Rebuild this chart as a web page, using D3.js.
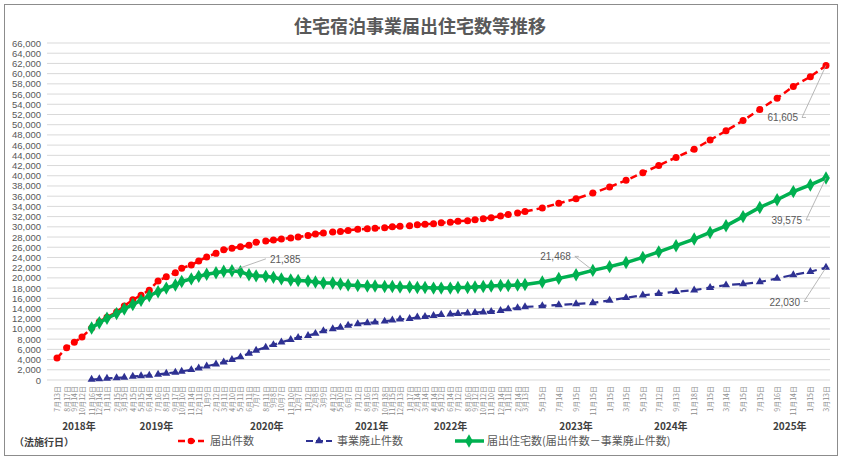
<!DOCTYPE html>
<html>
<head>
<meta charset="utf-8">
<script src="https://cdn.jsdelivr.net/npm/d3@7"></script>
<style>
  body { margin: 0; background: #fff; font-family: "Noto Sans CJK JP", "Noto Sans", sans-serif; }
</style>
</head>
<body>
<div class="visContainer"></div>
<script>
// Data.
const dates = [
  '2018-07-13','2018-08-17','2018-09-14','2018-10-12','2018-11-16','2018-12-14',
  '2019-01-11','2019-02-15','2019-03-15','2019-04-15','2019-05-15','2019-06-14','2019-07-16','2019-08-15','2019-09-17','2019-10-10','2019-11-14','2019-12-11',
  '2020-01-09','2020-02-12','2020-03-11','2020-04-10','2020-05-11','2020-06-11','2020-07-07','2020-08-11','2020-09-08','2020-10-07','2020-11-10','2020-12-07',
  '2021-01-12','2021-02-08','2021-03-09','2021-04-12','2021-05-10','2021-06-07','2021-07-12','2021-08-16','2021-09-13','2021-10-18','2021-11-15','2021-12-13',
  '2022-01-17','2022-02-14','2022-03-14','2022-04-14','2022-05-12','2022-06-14','2022-07-12','2022-08-16','2022-09-12','2022-10-12','2022-11-10','2022-12-14',
  '2023-01-11','2023-02-14','2023-03-13',
  '2023-05-15','2023-07-14','2023-09-15','2023-11-15',
  '2024-01-15','2024-03-15','2024-05-15','2024-07-12','2024-09-13','2024-11-18',
  '2025-01-15','2025-03-14','2025-05-15','2025-07-15','2025-09-16','2025-11-14',
  '2026-01-15','2026-03-13'
];
const filings = [
  4300,6300,7400,8400,10200,11400,
  12300,13300,14500,15700,16600,17600,19400,20200,21000,21900,22500,23300,
  24100,24800,25500,25800,26100,26400,27000,27200,27400,27600,27800,28000,
  28300,28600,28800,29000,29100,29300,29500,29600,29700,29800,30000,30100,
  30200,30400,30500,30600,30800,30900,31100,31200,31400,31600,31800,32100,
  32400,32700,33000,
  33700,34600,35500,36600,
  37800,39100,40600,42000,43600,45200,
  47000,48800,50800,53000,55200,57500,
  59400,61605
];
const closures = [
  null,null,null,null,100,200,
  300,400,500,700,800,900,1100,1300,1500,1700,2000,2300,
  2700,3100,3500,4000,4500,5200,5800,6400,6900,7400,7900,8300,
  8700,9100,9600,10000,10300,10700,11000,11200,11300,11500,11700,11900,
  12000,12300,12400,12600,12800,12900,13000,13100,13200,13300,13400,13600,
  13900,14100,14300,
  14500,14700,14900,15100,
  15600,16100,16600,16900,17300,17600,
  18100,18600,18800,19200,19900,20600,
  21200,22030
];
const housing = [
  null,null,null,null,10200,11200,
  12100,13000,13900,14800,15600,16500,17300,18000,18600,19300,19800,20300,
  20700,21000,21300,21385,21200,20600,20400,20300,20100,19800,19600,19500,
  19400,19200,19000,19000,18800,18600,18500,18400,18400,18300,18300,18200,
  18200,18100,18100,18000,18000,18000,18100,18100,18200,18300,18400,18500,
  18500,18600,18700,
  19200,19900,20600,21468,
  22200,23000,24000,25100,26300,27600,
  28900,30200,32000,33800,35300,36900,
  38200,39575
];
const yearLabels = ['2018年','2019年','2020年','2021年','2022年','2023年','2024年','2025年'];
const yearAt = ['2018-10-01','2019-07-10','2020-08-15','2021-09-01','2022-06-15','2023-09-15','2024-08-25','2025-11-01'];
const yTicks = d3.range(0, 66001, 2000);

const width = 845, height = 465;

const svg = d3.select('.visContainer').append('svg')
  .attr('width', width).attr('height', height);

// Frame.
svg.append('rect').attr('x', 4.5).attr('y', 4.5).attr('width', 833).attr('height', 451)
  .attr('fill', '#fff').attr('stroke', '#8c8c8c');

svg.append('text').attr('x', 420).attr('y', 33).attr('text-anchor', 'middle')
  .attr('font-size', 18).attr('font-weight', 'bold').attr('fill', '#595959')
  .text('住宅宿泊事業届出住宅数等推移');

const parse = d3.timeParse('%Y-%m-%d');
const x = d3.scaleTime()
  .domain([parse(dates[0]), parse(dates[dates.length - 1])])
  .range([57, 826]);
const y = d3.scaleLinear().domain([0, 66000]).range([380, 43]);

// Grid and y axis.
svg.append('g').selectAll('line').data(yTicks).enter().append('line')
  .attr('x1', 47).attr('x2', 830)
  .attr('y1', d => y(d)).attr('y2', d => y(d))
  .attr('stroke', '#d9d9d9').attr('stroke-width', 1);
svg.append('g').selectAll('text').data(yTicks).enter().append('text')
  .attr('x', 41).attr('y', d => y(d) + 3.5).attr('text-anchor', 'end')
  .attr('font-size', 9.5).attr('fill', '#595959').attr('font-family', 'Liberation Sans, Arial')
  .text(d => d3.format(',')(d));

// X labels.
const fmtLabel = d => { const t = parse(d); return (t.getMonth() + 1) + '月' + t.getDate() + '日'; };
svg.append('g').selectAll('text').data(dates).enter().append('text')
  .attr('transform', d => 'translate(' + (x(parse(d)) + 3) + ',386) rotate(-90)')
  .attr('text-anchor', 'end').attr('font-size', 7).attr('fill', '#8c8c8c')
  .text(fmtLabel);
svg.append('g').selectAll('text').data(yearLabels).enter().append('text')
  .attr('x', (d, i) => x(parse(yearAt[i]))).attr('y', 430).attr('text-anchor', 'middle')
  .attr('font-size', 10).attr('font-weight', 'bold').attr('fill', '#404040')
  .text(d => d);

// Lines.
const pts = vals => dates.map((d, i) => ({ t: parse(d), v: vals[i] })).filter(p => p.v !== null);
const line = d3.line().x(p => x(p.t)).y(p => y(p.v));

const redPts = pts(filings), bluePts = pts(closures), greenPts = pts(housing);

svg.append('path').attr('d', line(redPts)).attr('fill', 'none')
  .attr('stroke', '#ff0000').attr('stroke-width', 2.5).attr('stroke-dasharray', '7,4');
svg.append('g').selectAll('circle').data(redPts).enter().append('circle')
  .attr('cx', p => x(p.t)).attr('cy', p => y(p.v)).attr('r', 3.5).attr('fill', '#ff0000');

svg.append('path').attr('d', line(bluePts)).attr('fill', 'none')
  .attr('stroke', '#2e3192').attr('stroke-width', 2.2).attr('stroke-dasharray', '8,5');
svg.append('g').selectAll('path').data(bluePts).enter().append('path')
  .attr('d', d3.symbol().type(d3.symbolTriangle).size(28))
  .attr('transform', p => 'translate(' + x(p.t) + ',' + y(p.v) + ')')
  .attr('fill', '#2e3192');

svg.append('path').attr('d', line(greenPts)).attr('fill', 'none')
  .attr('stroke', '#00b050').attr('stroke-width', 3.5);
svg.append('g').selectAll('path').data(greenPts).enter().append('path')
  .attr('d', d3.symbol().type(d3.symbolDiamond).size(52))
  .attr('transform', p => 'translate(' + x(p.t) + ',' + y(p.v) + ')')
  .attr('fill', '#00b050');

// Annotations.
const notes = [
  { i: 21, s: housing, dx: 36, dy: -12, anchor: 'start' },
  { i: 60, s: housing, dx: -20, dy: -14, anchor: 'end' },
  { i: dates.length - 1, s: filings, dx: -26, dy: 52, anchor: 'end' },
  { i: dates.length - 1, s: housing, dx: -22, dy: 42, anchor: 'end' },
  { i: dates.length - 1, s: closures, dx: -24, dy: 34, anchor: 'end' }
];
notes.forEach(n => {
  const px = x(parse(dates[n.i])), py = y(n.s[n.i]);
  const tx = px + n.dx, ty = py + n.dy;
  svg.append('polyline')
    .attr('points', [[px, py], [tx + (n.anchor === 'start' ? -2 : 2), ty], [tx + (n.anchor === 'start' ? -2 : 6), ty]].map(p => p.join(',')).join(' '))
    .attr('fill', 'none').attr('stroke', '#a6a6a6').attr('stroke-width', 0.8);
  svg.append('text').attr('x', tx + (n.anchor === 'start' ? 2 : -2)).attr('y', ty + 4)
    .attr('text-anchor', n.anchor).attr('font-size', 10).attr('fill', '#595959')
    .attr('font-family', 'Liberation Sans, Arial')
    .text(d3.format(',')(n.s[n.i]));
});

// Legend.
svg.append('text').attr('x', 14).attr('y', 446).attr('font-size', 10).attr('fill', '#404040')
  .attr('font-weight', 'bold').text('（法施行日）');
const lg = svg.append('g');
lg.append('line').attr('x1', 178).attr('x2', 204).attr('y1', 441).attr('y2', 441).attr('stroke', '#ff0000').attr('stroke-width', 2.5).attr('stroke-dasharray', '7,3');
lg.append('circle').attr('cx', 191).attr('cy', 441).attr('r', 3.3).attr('fill', '#ff0000');
lg.append('text').attr('x', 210).attr('y', 445).attr('font-size', 11).attr('fill', '#595959').text('届出件数');
lg.append('line').attr('x1', 306).attr('x2', 332).attr('y1', 441).attr('y2', 441).attr('stroke', '#2e3192').attr('stroke-width', 2.2).attr('stroke-dasharray', '7,3');
lg.append('path').attr('d', d3.symbol().type(d3.symbolTriangle).size(28)).attr('transform', 'translate(319,441)').attr('fill', '#2e3192');
lg.append('text').attr('x', 337).attr('y', 445).attr('font-size', 11).attr('fill', '#595959').text('事業廃止件数');
lg.append('line').attr('x1', 455).attr('x2', 484).attr('y1', 441).attr('y2', 441).attr('stroke', '#00b050').attr('stroke-width', 3.5);
lg.append('path').attr('d', d3.symbol().type(d3.symbolDiamond).size(52)).attr('transform', 'translate(469,441)').attr('fill', '#00b050');
lg.append('text').attr('x', 487).attr('y', 445).attr('font-size', 11).attr('fill', '#595959').text('届出住宅数(届出件数－事業廃止件数)');
</script>
</body>
</html>
